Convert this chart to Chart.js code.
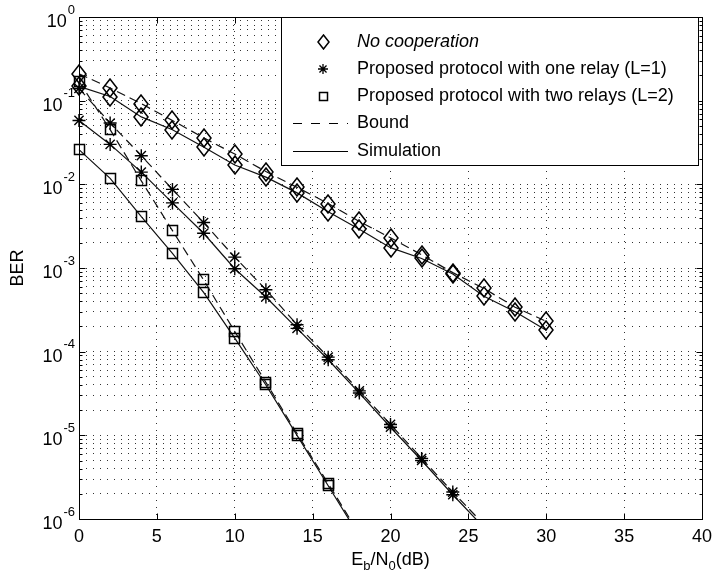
<!DOCTYPE html>
<html>
<head>
<meta charset="utf-8">
<title>BER vs Eb/N0</title>
<script src="https://cdn.jsdelivr.net/npm/chart.js@4.4.0/dist/chart.umd.min.js"></script>
<style>
  html, body { margin: 0; padding: 0; background: #fff; }
  #berChart { display: block; }
</style>
</head>
<body>
<canvas id="berChart" width="717" height="578"></canvas>
<script>
// values (Eb/N0 in dB, BER)
const snrDb = [0, 2, 4, 6, 8, 10, 12, 14, 16, 18, 20, 22, 24, 26, 28, 30];
const noCoopBound = [0.21, 0.142, 0.092, 0.058, 0.036, 0.023, 0.0142, 0.0092, 0.0059, 0.0036, 0.0023, 0.00144, 0.00088, 0.00057, 0.00034, 0.00023];
const noCoopSim = [0.148, 0.112, 0.064, 0.045, 0.028, 0.017, 0.0122, 0.0079, 0.0047, 0.0029, 0.00175, 0.0013, 0.00085, 0.00046, 0.0003, 0.00018];

// L=1 : markers up to 24 dB, line runs on below the axis
const relay1Snr = [0, 2, 4, 6, 8, 10, 12, 14, 16, 18, 20, 22, 24, 26];
const relay1Bound = [0.14, 0.054, 0.022, 0.0087, 0.0035, 0.00135, 0.00055, 0.00021, 8.6e-5, 3.4e-5, 1.35e-5, 5.3e-6, 2.1e-6, 8.6e-7];
const relay1Sim = [0.058, 0.03, 0.014, 0.006, 0.0026, 0.00098, 0.00045, 0.00019, 8.0e-5, 3.2e-5, 1.25e-5, 5.0e-6, 1.95e-6, 7.9e-7];

// L=2 : markers up to 16 dB
const relay2Snr = [0, 2, 4, 6, 8, 10, 12, 14, 16, 18];
const relay2Bound = [0.17, 0.045, 0.011, 0.0028, 0.00072, 0.000174, 4.3e-5, 1.05e-5, 2.65e-6, 6.6e-7];
const relay2Sim = [0.026, 0.0118, 0.0041, 0.0015, 0.00051, 0.000145, 4.0e-5, 1.0e-5, 2.5e-6, 6.2e-7];

const xTicks = [0, 5, 10, 15, 20, 25, 30, 35, 40];
const yExponents = [0, -1, -2, -3, -4, -5, -6];
const legendLabels = ['No cooperation', 'Proposed protocol with one relay (L=1)', 'Proposed protocol with two relays (L=2)', 'Bound', 'Simulation'];
const xTitle = ['E', 'b', '/N', '0', '(dB)'];
const yTitle = 'BER';

const FONT = '"Liberation Sans", Arial, Helvetica, sans-serif';
const INK = '#000';

// small canvases used as point styles (matlab style open markers)
function diamondMarker(w, h) {
    const c = document.createElement('canvas');
    c.width = w + 2; c.height = h + 2;
    const g = c.getContext('2d');
    g.strokeStyle = INK; g.lineWidth = 1.5;
    g.beginPath();
    g.moveTo(1 + w / 2, 1); g.lineTo(1 + w, 1 + h / 2); g.lineTo(1 + w / 2, 1 + h); g.lineTo(1, 1 + h / 2);
    g.closePath(); g.stroke();
    return c;
}

function squareMarker(s) {
    const c = document.createElement('canvas');
    c.width = s + 3; c.height = s + 3;
    const g = c.getContext('2d');
    g.strokeStyle = INK; g.lineWidth = 1.5;
    g.strokeRect(1.5, 1.5, s, s);
    return c;
}

const diamond = diamondMarker(14, 18);
const square = squareMarker(10);
const legendDiamond = diamondMarker(11, 14);
const legendSquare = squareMarker(8);

function makeSeries(xs, ys, marker, radius, dashed, markerCount) {
    return {
        data: xs.map((x, i) => ({ x: x, y: ys[i] })),
        borderColor: '#111',
        borderWidth: 1.2,
        borderDash: dashed ? [9, 5] : [],
        backgroundColor: 'rgba(0,0,0,0)',
        pointStyle: marker,
        pointBorderColor: INK,
        pointBorderWidth: 1.4,
        pointRadius: ctx => ctx.dataIndex < markerCount ? radius : 0,
        tension: 0,
        clip: { left: 12, top: 12, right: 12, bottom: 0 }
    };
}

// y grid: every 1..9 x 10^n
const yGrid = [];
yExponents.slice().reverse().forEach(e => {
    for (let m = 1; m <= 9; m++) {
        if (e === 0 && m > 1) break;
        yGrid.push(m * Math.pow(10, e));
    }
});

function drawStar(ctx, x, y, r) {
    ctx.beginPath();
    for (let k = 0; k < 4; k++) {
        const a = k * Math.PI / 4;
        ctx.moveTo(x - r * Math.cos(a), y - r * Math.sin(a));
        ctx.lineTo(x + r * Math.cos(a), y + r * Math.sin(a));
    }
    ctx.stroke();
}

// canvas state is reset when chart.js sizes the canvas, so set it here
const crispMarkers = {
    id: 'crispMarkers',
    beforeDatasetsDraw(chart) {
        chart.ctx.imageSmoothingEnabled = false;
    }
};

// frame, inward ticks, tick labels, titles and legend drawn like matlab
const matlabAxes = {
    id: 'matlabAxes',
    afterDraw(chart) {
        const ctx = chart.ctx;
        const a = chart.chartArea;
        const xs = chart.scales.x, ys = chart.scales.y;
        const L = Math.round(a.left) + 0.5, R = Math.round(a.right) + 0.5;
        const T = Math.round(a.top) + 0.5, B = Math.round(a.bottom) + 0.5;

        ctx.save();
        ctx.strokeStyle = INK;
        ctx.lineWidth = 1;
        ctx.setLineDash([]);
        ctx.strokeRect(L, T, R - L, B - T);

        // ticks
        ctx.beginPath();
        xTicks.forEach(v => {
            const px = Math.round(xs.getPixelForValue(v)) + 0.5;
            ctx.moveTo(px, B); ctx.lineTo(px, B - 6);
            ctx.moveTo(px, T); ctx.lineTo(px, T + 6);
        });
        yGrid.forEach(v => {
            const py = Math.round(ys.getPixelForValue(v)) + 0.5;
            const len = Math.abs(Math.log10(v) - Math.round(Math.log10(v))) < 1e-9 ? 6 : 3;
            ctx.moveTo(L, py); ctx.lineTo(L + len, py);
            ctx.moveTo(R, py); ctx.lineTo(R - len, py);
        });
        ctx.stroke();

        ctx.fillStyle = INK;
        // x tick labels
        ctx.font = '18px ' + FONT;
        ctx.textAlign = 'center';
        ctx.textBaseline = 'middle';
        xTicks.forEach(v => {
            ctx.fillText(String(v), xs.getPixelForValue(v), a.bottom + 18);
        });

        // y tick labels 10^n
        yExponents.forEach(e => {
            const py = ys.getPixelForValue(Math.pow(10, e));
            const expTxt = String(e);
            ctx.font = '13px ' + FONT;
            const ew = ctx.measureText(expTxt).width;
            const ex = a.left - 4 - ew;
            ctx.textAlign = 'left';
            ctx.fillText(expTxt, ex, py - 7);
            ctx.font = '18px ' + FONT;
            ctx.textAlign = 'right';
            ctx.fillText('10', ex - 1, py + 5);
        });

        // x title with subscripts
        const parts = xTitle.map((t, i) => ({ t: t, sub: i === 1 || i === 3 }));
        let total = 0;
        parts.forEach(p => {
            ctx.font = (p.sub ? '13px ' : '18px ') + FONT;
            p.w = ctx.measureText(p.t).width;
            total += p.w;
        });
        let cx = (a.left + a.right) / 2 - total / 2;
        ctx.textAlign = 'left';
        parts.forEach(p => {
            ctx.font = (p.sub ? '13px ' : '18px ') + FONT;
            ctx.fillText(p.t, cx, 560 + (p.sub ? 6 : 0));
            cx += p.w;
        });

        // y title
        ctx.save();
        ctx.translate(18, (a.top + a.bottom) / 2);
        ctx.rotate(-Math.PI / 2);
        ctx.font = '18px ' + FONT;
        ctx.textAlign = 'center';
        ctx.fillText(yTitle, 0, 0);
        ctx.restore();

        // legend box
        const lx = 281.5, ly = T, lw = 417, lh = 148;
        ctx.fillStyle = '#fff';
        ctx.fillRect(lx, ly, lw, lh);
        ctx.strokeRect(lx, ly, lw, lh);
        ctx.fillStyle = INK;
        ctx.strokeStyle = INK;
        const rowY = i => Math.round(ly + 24 + i * 27.3);
        const mx = 323, textX = 357;
        legendLabels.forEach((lbl, i) => {
            const y = rowY(i);
            ctx.lineWidth = 1.3;
            ctx.setLineDash([]);
            if (i === 0) ctx.drawImage(legendDiamond, mx - 6, y - 8);
            if (i === 1) drawStar(ctx, mx, y, 5);
            if (i === 2) ctx.drawImage(legendSquare, mx - 5, y - 5);
            if (i === 3 || i === 4) {
                ctx.lineWidth = 1.2;
                ctx.setLineDash(i === 3 ? [9, 9] : []);
                ctx.beginPath();
                ctx.moveTo(293, y + 0.5);
                ctx.lineTo(348, y + 0.5);
                ctx.stroke();
                ctx.setLineDash([]);
            }
            ctx.font = (i === 0 ? 'italic ' : '') + '18px ' + FONT;
            ctx.textAlign = 'left';
            ctx.textBaseline = 'middle';
            ctx.fillText(lbl, textX, y);
        });
        ctx.restore();
    }
};

let berChart = null;

function createBerChart() {
    const ctx = document.getElementById('berChart').getContext('2d');

    if (berChart) {
        berChart.destroy();
    }

    berChart = new Chart(ctx, {
        type: 'line',
        data: {
            datasets: [
                makeSeries(snrDb, noCoopBound, diamond, 8, true, snrDb.length),
                makeSeries(snrDb, noCoopSim, diamond, 8, false, snrDb.length),
                makeSeries(relay1Snr, relay1Bound, 'star', 6.5, true, 13),
                makeSeries(relay1Snr, relay1Sim, 'star', 6.5, false, 13),
                makeSeries(relay2Snr, relay2Bound, square, 7, true, 9),
                makeSeries(relay2Snr, relay2Sim, square, 7, false, 9)
            ]
        },
        options: {
            responsive: false,
            animation: false,
            devicePixelRatio: 1,
            layout: { padding: { left: 79, top: 17, right: 15, bottom: 59 } },
            plugins: {
                legend: { display: false },
                tooltip: { enabled: false },
                title: { display: false }
            },
            scales: {
                x: {
                    type: 'linear',
                    min: 0,
                    max: 40,
                    ticks: { display: false, stepSize: 5 },
                    grid: { color: '#333', lineWidth: 1, drawTicks: false },
                    border: { display: false, dash: [1, 6] }
                },
                y: {
                    type: 'logarithmic',
                    min: 1e-6,
                    max: 1,
                    afterBuildTicks: axis => {
                        axis.ticks = yGrid.map(v => ({ value: v }));
                    },
                    ticks: { display: false },
                    grid: { color: '#333', lineWidth: 1, drawTicks: false },
                    border: { display: false, dash: [1, 6] }
                }
            }
        },
        plugins: [crispMarkers, matlabAxes]
    });
}

createBerChart();
</script>
</body>
</html>
